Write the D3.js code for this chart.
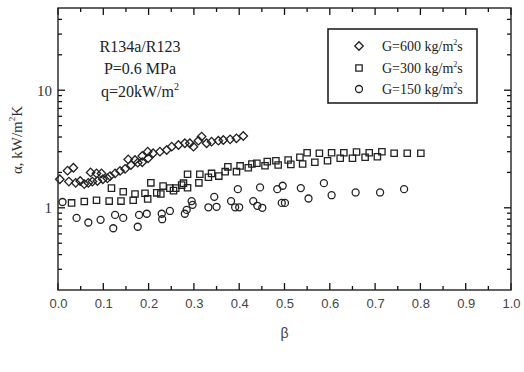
<!DOCTYPE html>
<html lang="en">
<head>
<meta charset="UTF-8">
<title>alpha vs beta</title>
<script src="https://d3js.org/d3.v7.min.js"></script>
<style>
  body { margin: 0; background: #fff; }
  svg { display: block; }
</style>
</head>
<body>
<div id="chart"></div>
<script>
// G=600 kg/m2s (diamonds)
const beta600 = [0.004, 0.021, 0.034, 0.024, 0.039, 0.049, 0.058, 0.067, 0.072, 0.076, 0.085, 0.087, 0.096, 0.099,
  0.109, 0.115, 0.126, 0.137, 0.148, 0.155, 0.161, 0.170, 0.176, 0.186, 0.186, 0.198, 0.199, 0.210, 0.225, 0.240,
  0.251, 0.266, 0.280, 0.291, 0.299, 0.310, 0.317, 0.328, 0.339, 0.354, 0.365, 0.380, 0.394, 0.409];
const alpha600 = [1.75, 2.07, 2.19, 1.67, 1.63, 1.69, 1.59, 1.63, 2.00, 1.67, 1.96, 1.69, 1.96, 1.75,
  1.78, 1.86, 1.96, 2.06, 2.14, 2.58, 2.31, 2.55, 2.42, 2.76, 2.44, 3.00, 2.64, 2.91, 3.00, 3.10,
  3.31, 3.42, 3.54, 3.54, 3.31, 3.72, 4.03, 3.54, 3.65, 3.72, 3.77, 3.82, 3.90, 4.08];

// G=300 kg/m2s (squares)
const beta300 = [0.030, 0.058, 0.085, 0.113, 0.118, 0.139, 0.144, 0.166, 0.170, 0.192, 0.198, 0.205, 0.218,
  0.227, 0.232, 0.247, 0.255, 0.260, 0.273, 0.277, 0.286, 0.286, 0.311, 0.313, 0.332, 0.339, 0.355, 0.369,
  0.375, 0.394, 0.402, 0.420, 0.428, 0.439, 0.457, 0.462, 0.481, 0.486, 0.508, 0.514, 0.534, 0.540, 0.550,
  0.567, 0.577, 0.595, 0.604, 0.623, 0.631, 0.650, 0.659, 0.678, 0.687, 0.705, 0.715, 0.742, 0.771, 0.801];
const alpha300 = [1.10, 1.13, 1.16, 1.14, 1.47, 1.14, 1.37, 1.16, 1.31, 1.33, 1.19, 1.63, 1.34,
  1.31, 1.53, 1.47, 1.40, 1.47, 1.56, 1.62, 1.48, 1.93, 1.63, 1.93, 1.82, 1.96, 1.86, 2.03,
  2.23, 2.03, 2.27, 2.19, 2.36, 2.39, 2.28, 2.47, 2.51, 2.31, 2.55, 2.34, 2.69, 2.36, 2.94,
  2.44, 2.91, 2.51, 2.94, 2.64, 2.94, 2.64, 2.98, 2.69, 2.94, 2.72, 3.00, 2.91, 2.91, 2.91];

// G=150 kg/m2s (circles)
const beta150 = [0.010, 0.041, 0.067, 0.094, 0.122, 0.126, 0.144, 0.176, 0.179, 0.196, 0.229, 0.230, 0.247,
  0.280, 0.284, 0.295, 0.297, 0.332, 0.345, 0.350, 0.382, 0.391, 0.397, 0.400, 0.431, 0.440, 0.446, 0.451,
  0.484, 0.494, 0.496, 0.501, 0.536, 0.553, 0.587, 0.604, 0.657, 0.711, 0.764];
const alpha150 = [1.12, 0.82, 0.75, 0.79, 0.67, 0.87, 0.82, 0.69, 0.87, 0.89, 0.89, 0.80, 0.94,
  0.89, 0.96, 1.14, 1.06, 1.01, 1.24, 1.02, 1.14, 1.01, 1.44, 1.01, 1.14, 1.04, 1.49, 1.00,
  1.44, 1.10, 1.54, 1.10, 1.47, 1.20, 1.62, 1.28, 1.35, 1.35, 1.44];

const xTicks = [0, 0.1, 0.2, 0.3, 0.4, 0.5, 0.6, 0.7, 0.8, 0.9, 1.0];
const xMinor = [0.05, 0.15, 0.25, 0.35, 0.45, 0.55, 0.65, 0.75, 0.85, 0.95];
const yTicks = [1, 10];
const yMinor = [0.3, 0.4, 0.5, 0.6, 0.7, 0.8, 0.9, 2, 3, 4, 5, 6, 7, 8, 9, 20, 30, 40];
const legendLabels = ["G=600 kg/m", "G=300 kg/m", "G=150 kg/m"];
const noteLines = ["R134a/R123", "P=0.6 MPa", "q=20kW/m"];

const W = 524, H = 372;
const padL = 58, padR = 511, padT = 8, padB = 290;
const ink = "#222";
const serif = "'Liberation Serif', 'Times New Roman', serif";
const sans = "'Liberation Sans', Arial, sans-serif";

const svg = d3.select("#chart").append("svg")
  .attr("width", W).attr("height", H);

const x = d3.scaleLinear().domain([0, 1]).range([padL, padR]);
const y = d3.scaleLog().domain([0.2, 50]).range([padB, padT]);

// tick labels via d3 axes (tick lines drawn below by hand, pointing inward)
svg.append("g").attr("transform", `translate(0,${padB})`)
  .call(d3.axisBottom(x).tickValues(xTicks).tickFormat(d3.format(".1f"))
    .tickSize(0).tickPadding(9))
  .call(g => g.select(".domain").remove())
  .call(g => g.selectAll("text").attr("font-family", sans).attr("font-size", 13).attr("fill", "#444"));

svg.append("g").attr("transform", `translate(${padL},0)`)
  .call(d3.axisLeft(y).tickValues(yTicks).tickFormat(d3.format("d"))
    .tickSize(0).tickPadding(6))
  .call(g => g.select(".domain").remove())
  .call(g => g.selectAll("text").attr("font-family", serif).attr("font-size", 15).attr("fill", "#333"));

// inward tick marks on all four sides
const tk = svg.append("g").attr("stroke", "#111").attr("stroke-width", 1.3);
function xTickMarks(vals, len) {
  tk.append("g").selectAll("line").data(vals).join("line")
    .attr("x1", d => x(d)).attr("x2", d => x(d))
    .attr("y1", padB).attr("y2", padB - len);
  tk.append("g").selectAll("line").data(vals).join("line")
    .attr("x1", d => x(d)).attr("x2", d => x(d))
    .attr("y1", padT).attr("y2", padT + len);
}
function yTickMarks(vals, len) {
  tk.append("g").selectAll("line").data(vals).join("line")
    .attr("y1", d => y(d)).attr("y2", d => y(d))
    .attr("x1", padL).attr("x2", padL + len);
  tk.append("g").selectAll("line").data(vals).join("line")
    .attr("y1", d => y(d)).attr("y2", d => y(d))
    .attr("x1", padR).attr("x2", padR - len);
}
xTickMarks(xTicks, 7);
xTickMarks(xMinor, 4);
yTickMarks(yTicks, 7);
yTickMarks(yMinor, 4);

// frame
svg.append("rect")
  .attr("x", padL).attr("y", padT)
  .attr("width", padR - padL).attr("height", padB - padT)
  .attr("fill", "none").attr("stroke", ink).attr("stroke-width", 1.4);

// markers
const diamond = d3.symbol().type(d3.symbolSquare).size(36)();
const square = d3.symbol().type(d3.symbolSquare).size(40)();

function drawSeries(xs, ys, kind) {
  const g = svg.append("g").attr("fill", "none").attr("stroke", ink).attr("stroke-width", 1.3);
  const pts = xs.map((b, i) => [b, ys[i]]);
  if (kind === "circle") {
    g.selectAll("circle").data(pts).join("circle")
      .attr("cx", d => x(d[0])).attr("cy", d => y(d[1])).attr("r", 3.5);
  } else {
    g.selectAll("path").data(pts).join("path")
      .attr("d", kind === "diamond" ? diamond : square)
      .attr("transform", d => `translate(${x(d[0])},${y(d[1])})` + (kind === "diamond" ? " rotate(45)" : ""));
  }
}
drawSeries(beta150, alpha150, "circle");
drawSeries(beta300, alpha300, "square");
drawSeries(beta600, alpha600, "diamond");

// legend
const lg = svg.append("g");
lg.append("rect").attr("x", 328).attr("y", 29).attr("width", 149).attr("height", 74)
  .attr("fill", "#fff").attr("stroke", ink).attr("stroke-width", 1.6);
const kinds = ["diamond", "square", "circle"];
const rowsY = [46, 68, 89];
kinds.forEach((k, i) => {
  const cy = rowsY[i];
  if (k === "circle") {
    lg.append("circle").attr("cx", 359).attr("cy", cy).attr("r", 3.5)
      .attr("fill", "none").attr("stroke", ink).attr("stroke-width", 1.3);
  } else {
    lg.append("path").attr("d", k === "diamond" ? diamond : square)
      .attr("transform", `translate(359,${cy})` + (k === "diamond" ? " rotate(45)" : ""))
      .attr("fill", "none").attr("stroke", ink).attr("stroke-width", 1.3);
  }
  const t = lg.append("text").attr("x", 382).attr("y", cy + 4.5)
    .attr("font-family", serif).attr("font-size", 14).attr("fill", ink);
  t.append("tspan").text(legendLabels[i]);
  t.append("tspan").attr("font-size", 8).attr("dy", -6).text("2");
  t.append("tspan").attr("dy", 6).text("s");
});

// annotation
const noteY = [52, 74, 97];
noteLines.forEach((s, i) => {
  const t = svg.append("text").attr("x", 140).attr("y", noteY[i])
    .attr("text-anchor", "middle")
    .attr("font-family", serif).attr("font-size", 16).attr("fill", ink);
  t.append("tspan").text(s);
  if (i === 2) t.append("tspan").attr("font-size", 10).attr("dy", -7).text("2");
});

// axis titles
svg.append("text").attr("x", (padL + padR) / 2).attr("y", 338)
  .attr("text-anchor", "middle").attr("font-family", sans).attr("font-size", 14)
  .attr("fill", "#444").text("β");

const yl = svg.append("text")
  .attr("transform", "translate(22,140) rotate(-90)")
  .attr("text-anchor", "middle").attr("font-family", serif).attr("font-size", 15).attr("fill", "#333");
yl.append("tspan").text("α, kW/m");
yl.append("tspan").attr("font-size", 9).attr("dy", -7).text("2");
yl.append("tspan").attr("dy", 7).text("K");
</script>
</body>
</html>
